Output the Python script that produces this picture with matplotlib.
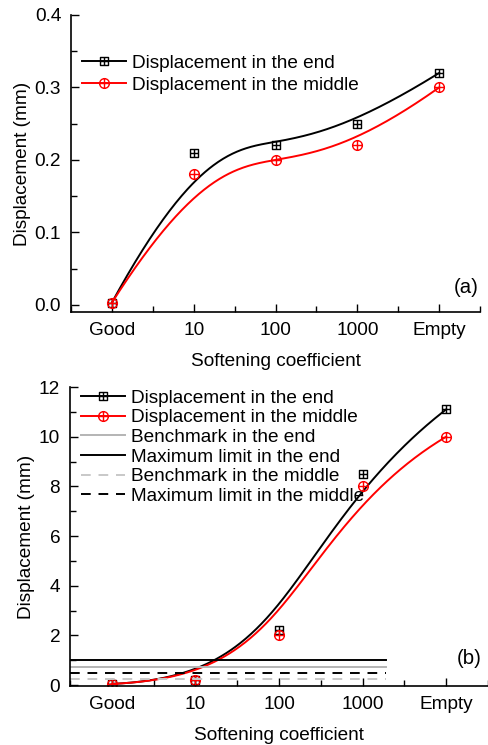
import numpy as np
import matplotlib
matplotlib.use("Agg")
import matplotlib.pyplot as plt
from matplotlib.path import Path
from matplotlib.ticker import MultipleLocator

plt.rcParams['font.family'] = ['Liberation Sans', 'DejaVu Sans']

categories = ["Good", "10", "100", "1000", "Empty"]
end_a = [0.003, 0.21, 0.22, 0.25, 0.32]
mid_a = [0.003, 0.18, 0.20, 0.22, 0.30]
end_b = [0.05, 0.2, 2.2, 8.5, 11.1]
mid_b = [0.05, 0.2, 2.0, 8.0, 10.0]
bench_end = 0.75
max_end = 1.0
bench_mid = 0.25
max_mid = 0.5

FS = 13.7


def bspline(xs, ys, n=300):
    # clamped cubic B-spline using the data points as control points
    P = np.column_stack([xs, ys]).astype(float)
    k = 3
    m = len(P)
    inner = np.linspace(0, 1, m - k + 1)[1:-1]
    t = np.concatenate([[0] * (k + 1), inner, [1] * (k + 1)])
    u = np.linspace(0, 1, n)
    u[-1] = 1 - 1e-9
    out = []
    for uu in u:
        N = np.array([1.0 if t[i] <= uu < t[i + 1] else 0.0 for i in range(len(t) - 1)])
        for d in range(1, k + 1):
            Nn = np.zeros(len(t) - 1 - d)
            for i in range(len(Nn)):
                a = 0.0
                if t[i + d] != t[i]:
                    a += (uu - t[i]) / (t[i + d] - t[i]) * N[i]
                if t[i + d + 1] != t[i + 1]:
                    a += (t[i + d + 1] - uu) / (t[i + d + 1] - t[i + 1]) * N[i + 1]
                Nn[i] = a
            N = Nn
        out.append(N @ P)
    out = np.array(out)
    return out[:, 0], out[:, 1]


sq = Path.unit_rectangle().transformed(matplotlib.transforms.Affine2D().translate(-0.5, -0.5))
cross = Path([(-0.5, 0), (0.5, 0), (0, -0.5), (0, 0.5)],
             [Path.MOVETO, Path.LINETO, Path.MOVETO, Path.LINETO])
sq_plus = Path.make_compound_path(sq, cross)
circ = Path.unit_circle().transformed(matplotlib.transforms.Affine2D().scale(0.5))
circ_plus = Path.make_compound_path(circ, cross)

x = np.arange(1, 6)
fig = plt.figure(figsize=(4.89, 7.45), dpi=100)
ax1 = fig.add_axes([0.145, 0.581, 0.837, 0.399])
ax2 = fig.add_axes([0.143, 0.079, 0.855, 0.4015])


def draw(ax, end, mid):
    for ys, col, mk, ms, lab in [(end, 'black', sq_plus, 6, 'Displacement in the end'),
                                 (mid, 'red', circ_plus, 7, 'Displacement in the middle')]:
        cx, cy = bspline(x, ys)
        ax.plot(cx, cy, color=col, lw=1.4)
        ax.plot(x, ys, ls='none', marker=mk, ms=ms, mfc='none', mec=col, mew=1.0)
        ax.plot([], [], color=col, lw=1.4, marker=mk, ms=ms, mfc='none', mec=col,
                mew=1.0, label=lab)


def style(ax, ylpad):
    ax.spines['top'].set_visible(False)
    ax.spines['right'].set_visible(False)
    ax.set_xlim(0.5, 5.5)
    ax.set_xticks(x)
    ax.set_xticklabels(categories)
    ax.xaxis.set_minor_locator(MultipleLocator(1, offset=0.5))
    ax.tick_params(which='both', direction='in', labelsize=FS, width=1)
    ax.tick_params(which='major', length=6, pad=7)
    ax.tick_params(which='minor', length=4)
    ax.set_xlabel('Softening coefficient', fontsize=FS, labelpad=10)
    ax.set_ylabel('Displacement (mm)', fontsize=FS, labelpad=ylpad)
    for s in ['left', 'bottom']:
        ax.spines[s].set_linewidth(1.2)


draw(ax1, end_a, mid_a)
style(ax1, 3)
ax1.set_ylim(-0.01, 0.4)
ax1.set_yticks([0.0, 0.1, 0.2, 0.3, 0.4])
ax1.yaxis.set_minor_locator(MultipleLocator(0.05))
ax1.legend(loc='upper left', bbox_to_anchor=(0.0, 0.905), frameon=False, fontsize=FS,
           handlelength=2.3, handletextpad=0.3, labelspacing=0.25, borderaxespad=0.2)
ax1.text(0.995, 0.084, '(a)', transform=ax1.transAxes, ha='right', va='center', fontsize=FS + 1)

draw(ax2, end_b, mid_b)
xl = [0.5, 4.28]
ax2.plot(xl, [bench_end] * 2, color='#b4b4b4', lw=1.4, label='Benchmark in the end')
ax2.plot(xl, [max_end] * 2, color='black', lw=1.4, label='Maximum limit in the end')
ax2.plot(xl, [bench_mid] * 2, color='#c8c8c8', lw=1.4, ls=(0, (5, 4)), label='Benchmark in the middle')
ax2.plot(xl, [max_mid] * 2, color='black', lw=1.4, ls=(0, (5, 4)), label='Maximum limit in the middle')
style(ax2, 3)
ax2.set_ylim(-0.04, 12)
ax2.set_yticks(range(0, 13, 2))
ax2.yaxis.set_minor_locator(MultipleLocator(1))
ax2.legend(loc='upper left', bbox_to_anchor=(0.0, 1.03), frameon=False, fontsize=FS,
           handlelength=2.3, handletextpad=0.3, labelspacing=0.12, borderaxespad=0.2)
ax2.text(0.985, 0.094, '(b)', transform=ax2.transAxes, ha='right', va='center', fontsize=FS + 1)

fig.savefig('out.png', dpi=100)
